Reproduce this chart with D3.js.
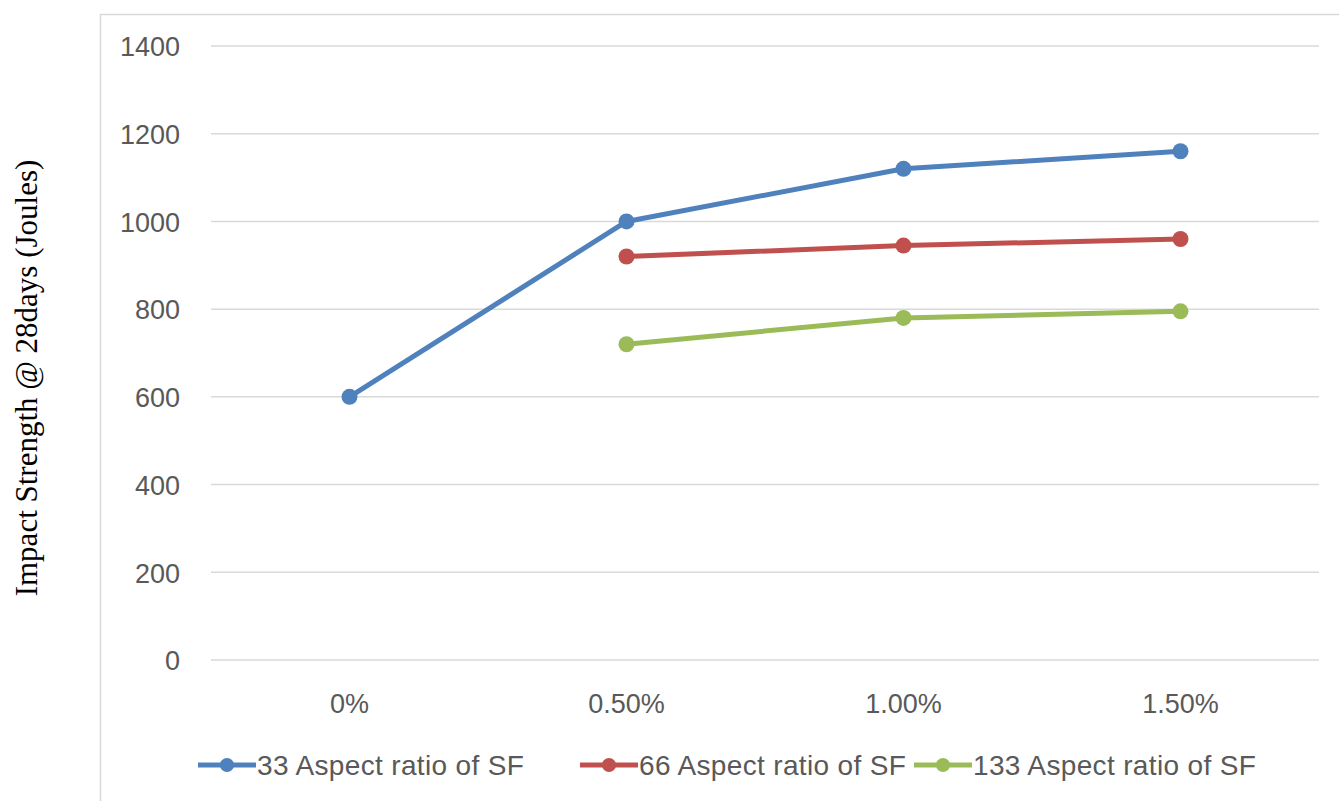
<!DOCTYPE html>
<html>
<head>
<meta charset="utf-8">
<script src="https://cdn.jsdelivr.net/npm/d3@7"></script>
<style>
  body { margin: 0; background: #fff; }
  svg { display: block; }
</style>
</head>
<body>
<svg width="1339" height="801"></svg>
<script>
const categories = ['0%', '0.50%', '1.00%', '1.50%'];
const yTicks = [0, 200, 400, 600, 800, 1000, 1200, 1400];
const seriesNames = ['33 Aspect ratio of SF', '66 Aspect ratio of SF', '133 Aspect ratio of SF'];
const ar33 = [600, 1000, 1120, 1160];
const ar66 = [null, 920, 945, 960];
const ar133 = [null, 720, 780, 795];
const colors = ['#4F81BD', '#C0504D', '#9BBB59'];

const svg = d3.select('svg');
const width = +svg.attr('width');
const height = +svg.attr('height');

// outer chart border (runs off the right and bottom)
svg.append('rect')
  .attr('x', 100.5).attr('y', 14.5)
  .attr('width', width).attr('height', height)
  .attr('fill', 'none').attr('stroke', '#D9D9D9').attr('stroke-width', 1.5);

const plotLeft = 211, plotRight = 1319, plotTop = 46, plotBottom = 660;

const x = d3.scaleBand().domain(categories).range([plotLeft, plotRight]);
const y = d3.scaleLinear().domain([0, 1400]).range([plotBottom, plotTop]);

// gridlines
svg.append('g')
  .selectAll('line')
  .data(yTicks)
  .join('line')
  .attr('x1', plotLeft).attr('x2', plotRight)
  .attr('y1', d => y(d)).attr('y2', d => y(d))
  .attr('stroke', '#D9D9D9').attr('stroke-width', 1.5);

// y axis labels
const yAxis = svg.append('g')
  .attr('transform', `translate(${plotLeft - 31},0)`)
  .call(d3.axisLeft(y).tickValues(yTicks).tickFormat(d3.format('d')).tickSize(0).tickPadding(0));
yAxis.select('.domain').remove();
yAxis.selectAll('text')
  .attr('font-family', 'Liberation Sans, Arial, sans-serif')
  .attr('font-size', 27).attr('fill', '#595959')
  .attr('dy', '0.36em');

// x axis labels
const xAxis = svg.append('g')
  .attr('transform', `translate(0,${plotBottom})`)
  .call(d3.axisBottom(x).tickSize(0).tickPadding(0));
xAxis.select('.domain').remove();
xAxis.selectAll('text')
  .attr('font-family', 'Liberation Sans, Arial, sans-serif')
  .attr('font-size', 27).attr('fill', '#595959')
  .attr('dy', null).attr('y', 53);

// y title
svg.append('text')
  .attr('transform', `translate(37,378) rotate(-90)`)
  .attr('text-anchor', 'middle')
  .attr('font-family', 'Liberation Serif, Times New Roman, serif')
  .attr('font-size', 31).attr('fill', '#000')
  .text('Impact Strength @ 28days (Joules)');

// series
const allSeries = [ar33, ar66, ar133];
const line = d3.line()
  .defined(d => d.v != null)
  .x(d => x(d.c) + x.bandwidth() / 2)
  .y(d => y(d.v));

allSeries.forEach((vals, i) => {
  const pts = vals.map((v, j) => ({ c: categories[j], v }));
  svg.append('path')
    .datum(pts)
    .attr('d', line)
    .attr('fill', 'none')
    .attr('stroke', colors[i])
    .attr('stroke-width', 5)
    .attr('stroke-linejoin', 'round');
  svg.append('g')
    .selectAll('circle')
    .data(pts.filter(d => d.v != null))
    .join('circle')
    .attr('cx', d => x(d.c) + x.bandwidth() / 2)
    .attr('cy', d => y(d.v))
    .attr('r', 8)
    .attr('fill', colors[i]);
});

// legend
const legendX = [198, 580, 914];
const legendY = 765;
const legend = svg.append('g');
seriesNames.forEach((name, i) => {
  const g = legend.append('g').attr('transform', `translate(${legendX[i]},${legendY})`);
  g.append('line')
    .attr('x1', 0).attr('x2', 58).attr('y1', 0).attr('y2', 0)
    .attr('stroke', colors[i]).attr('stroke-width', 5);
  g.append('circle').attr('cx', 29).attr('cy', 0).attr('r', 7).attr('fill', colors[i]);
  g.append('text')
    .attr('x', 59).attr('y', 10)
    .attr('font-family', 'Liberation Sans, Arial, sans-serif')
    .attr('font-size', 28).attr('letter-spacing', 0.35).attr('fill', '#595959')
    .text(name);
});
</script>
</body>
</html>
